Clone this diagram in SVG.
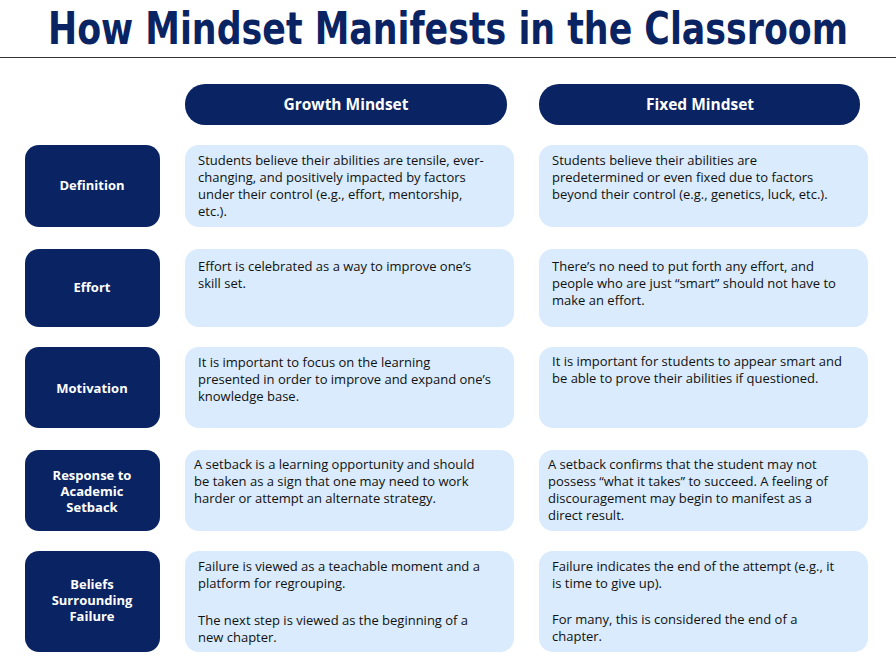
<svg xmlns="http://www.w3.org/2000/svg" width="896" height="672" viewBox="0 0 896 672">
<style>
.t{font-family:"Liberation Sans Narrow","DejaVu Sans Condensed",sans-serif;font-weight:bold;font-size:44px;fill:#0a2463}
.hd{fill:#0a2463}
.hl{font-family:"Open Sans","Noto Sans",sans-serif;font-weight:bold;font-size:15.5px;fill:#fff;text-anchor:middle}
.lb{font-family:"Open Sans","Noto Sans",sans-serif;font-weight:bold;font-size:13px;fill:#fff;text-anchor:middle}
.bx{fill:#d9ebfc}
.tx{font-family:"Open Sans","Noto Sans",sans-serif;font-size:13px;fill:#111}
</style>
<rect width="896" height="672" fill="#fff"/>
<text class="t" x="448" y="44" text-anchor="middle" textLength="800" lengthAdjust="spacingAndGlyphs">How Mindset Manifests in the Classroom</text>
<line x1="0" y1="57.5" x2="896" y2="57.5" stroke="#333" stroke-width="1"/>
<g id="h-growth"><rect class="hd" x="185" y="84" width="322" height="41" rx="20"/><text class="hl" x="346" y="110">Growth Mindset</text></g>
<g id="h-fixed"><rect class="hd" x="539" y="84" width="321" height="41" rx="20"/><text class="hl" x="700" y="110">Fixed Mindset</text></g>

<g id="r1"><rect class="hd" x="25" y="145" width="135" height="82" rx="14"/><text class="lb" x="92" y="190">Definition</text></g>
<g id="g1"><rect class="bx" x="185" y="145" width="329" height="82" rx="14"/><text class="tx"><tspan x="198" y="165">Students believe their abilities are tensile, ever-</tspan><tspan x="198" y="182">changing, and positively impacted by factors</tspan><tspan x="198" y="199">under their control (e.g., effort, mentorship,</tspan><tspan x="198" y="216">etc.).</tspan></text></g>
<g id="f1"><rect class="bx" x="539" y="145" width="329" height="82" rx="14"/><text class="tx"><tspan x="552" y="165">Students believe their abilities are</tspan><tspan x="552" y="182">predetermined or even fixed due to factors</tspan><tspan x="552" y="199">beyond their control (e.g., genetics, luck, etc.).</tspan></text></g>

<g id="r2"><rect class="hd" x="25" y="249" width="135" height="78" rx="14"/><text class="lb" x="92" y="292">Effort</text></g>
<g id="g2"><rect class="bx" x="185" y="249" width="329" height="78" rx="14"/><text class="tx"><tspan x="198" y="271">Effort is celebrated as a way to improve one’s</tspan><tspan x="198" y="288">skill set.</tspan></text></g>
<g id="f2"><rect class="bx" x="539" y="249" width="329" height="78" rx="14"/><text class="tx"><tspan x="552" y="271">There’s no need to put forth any effort, and</tspan><tspan x="552" y="288">people who are just “smart” should not have to</tspan><tspan x="552" y="305">make an effort.</tspan></text></g>

<g id="r3"><rect class="hd" x="25" y="347" width="135" height="81" rx="14"/><text class="lb" x="92" y="393">Motivation</text></g>
<g id="g3"><rect class="bx" x="185" y="347" width="329" height="81" rx="14"/><text class="tx"><tspan x="198" y="367">It is important to focus on the learning</tspan><tspan x="198" y="384">presented in order to improve and expand one’s</tspan><tspan x="198" y="401">knowledge base.</tspan></text></g>
<g id="f3"><rect class="bx" x="539" y="347" width="329" height="81" rx="14"/><text class="tx"><tspan x="552" y="366">It is important for students to appear smart and</tspan><tspan x="552" y="383">be able to prove their abilities if questioned.</tspan></text></g>

<g id="r4"><rect class="hd" x="25" y="450" width="135" height="81" rx="14"/><text class="lb"><tspan x="92" y="480">Response to</tspan><tspan x="92" y="496">Academic</tspan><tspan x="92" y="512">Setback</tspan></text></g>
<g id="g4"><rect class="bx" x="185" y="450" width="329" height="81" rx="14"/><text class="tx"><tspan x="194" y="469">A setback is a learning opportunity and should</tspan><tspan x="194" y="486">be taken as a sign that one may need to work</tspan><tspan x="194" y="503">harder or attempt an alternate strategy.</tspan></text></g>
<g id="f4"><rect class="bx" x="539" y="450" width="329" height="81" rx="14"/><text class="tx"><tspan x="548" y="469">A setback confirms that the student may not</tspan><tspan x="548" y="486">possess “what it takes” to succeed. A feeling of</tspan><tspan x="548" y="503">discouragement may begin to manifest as a</tspan><tspan x="548" y="520">direct result.</tspan></text></g>

<g id="r5"><rect class="hd" x="25" y="551" width="135" height="101" rx="14"/><text class="lb"><tspan x="92" y="589">Beliefs</tspan><tspan x="92" y="605">Surrounding</tspan><tspan x="92" y="621">Failure</tspan></text></g>
<g id="g5"><rect class="bx" x="185" y="551" width="329" height="101" rx="14"/><text class="tx"><tspan x="198" y="571">Failure is viewed as a teachable moment and a</tspan><tspan x="198" y="588">platform for regrouping.</tspan><tspan x="198" y="625">The next step is viewed as the beginning of a</tspan><tspan x="198" y="642">new chapter.</tspan></text></g>
<g id="f5"><rect class="bx" x="539" y="551" width="329" height="101" rx="14"/><text class="tx"><tspan x="552" y="571">Failure indicates the end of the attempt (e.g., it</tspan><tspan x="552" y="588">is time to give up).</tspan><tspan x="552" y="624">For many, this is considered the end of a</tspan><tspan x="552" y="641">chapter.</tspan></text></g>
</svg>
